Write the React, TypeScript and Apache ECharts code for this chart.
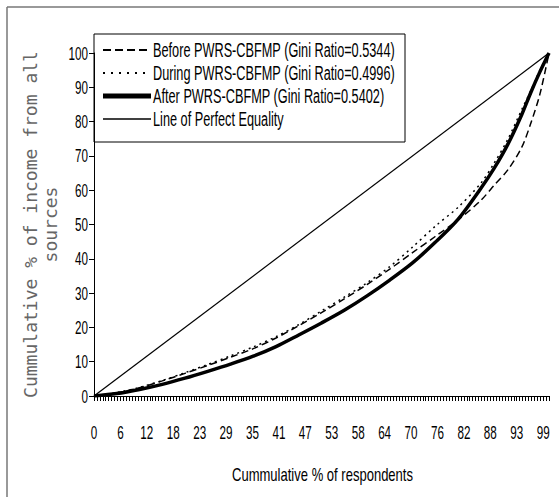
import { useEffect, useRef } from 'react';
import * as echarts from 'echarts';

// Cumulative % of respondents at which the curves are read
const respondentsPct = [0, 5, 10, 15, 20, 25, 30, 35, 40, 45, 50, 55, 60, 65, 70, 75, 80, 85, 88, 91, 94, 96, 98, 100];
// Cumulative % of income from all sources
const beforeIncome = [0, 0.9, 2.4, 4.4, 6.6, 8.9, 11.3, 13.8, 16.9, 20.5, 24.3, 28.3, 32.5, 37.0, 41.8, 46.5, 51.3, 57.0, 61.5, 66.0, 72.5, 79.5, 88.0, 100];
const duringIncome = [0, 1.0, 2.5, 4.5, 6.8, 9.2, 11.7, 14.3, 17.3, 20.8, 24.8, 28.8, 33.0, 37.7, 43.4, 49.5, 55.0, 62.0, 68.0, 75.0, 83.5, 89.0, 95.0, 100];
const afterIncome = [0, 0.7, 1.9, 3.4, 5.2, 7.2, 9.3, 11.6, 14.4, 17.8, 21.3, 25.0, 29.2, 33.8, 38.8, 44.8, 51.5, 60.5, 66.5, 73.5, 82.0, 88.5, 94.5, 100];
const equalityPct = [0, 100];

const seriesNames = [
  'Before PWRS-CBFMP (Gini Ratio=0.5344)',
  'During PWRS-CBFMP (Gini Ratio=0.4996)',
  'After PWRS-CBFMP (Gini Ratio=0.5402)',
  'Line of Perfect Equality',
];

// x axis: one tick per respondent group, a label every 9th
const xTickLabels = ['0', '6', '12', '18', '23', '29', '35', '41', '47', '53', '58', '64', '70', '76', '82', '88', '93', '99'];
const respondentGroups = 156;
const labelEvery = 9;
const yTickLabels = ['0', '10', '20', '30', '40', '50', '60', '70', '80', '90', '100'];

const xTitle = 'Cummulative % of respondents';
const yTitle = 'Cummulative % of income from all\nsources';

const SANS = "'Liberation Sans', Arial, sans-serif";

function measure(text: string, font: string): number {
  const ctx = document.createElement('canvas').getContext('2d');
  if (!ctx) return text.length * 9;
  ctx.font = font;
  return ctx.measureText(text).width;
}

export default function App() {
  const ref = useRef<HTMLDivElement>(null);
  useEffect(() => {
    if (!ref.current) return;
    const chart = echarts.init(ref.current, undefined, { renderer: 'svg' });
    const pairs = (ys: number[]) => respondentsPct.map((x, i) => [x, ys[i]]);
    const categories = Array.from({ length: respondentGroups }, (_, i) => String(i));
    chart.setOption({
      animation: false,
      backgroundColor: '#fff',
      grid: { left: 94, top: 53, width: 455, height: 343, containLabel: false },
      xAxis: [
        { type: 'value', min: 0, max: 100, show: false },
        {
          type: 'category',
          data: categories,
          boundaryGap: false,
          position: 'bottom',
          axisLine: { show: true, lineStyle: { color: '#000', width: 1 } },
          axisTick: { show: true, interval: 0, length: 5, lineStyle: { color: '#000' } },
          axisLabel: { show: false },
          splitLine: { show: false },
        },
      ],
      yAxis: {
        type: 'value',
        min: 0,
        max: 100,
        interval: 10,
        axisLine: { show: true, lineStyle: { color: '#000', width: 1 } },
        axisTick: { show: true, length: 5, lineStyle: { color: '#000' } },
        axisLabel: { show: false },
        splitLine: { show: false },
        name: yTitle,
        nameLocation: 'middle',
        nameRotate: 90,
        nameGap: 34,
        nameTextStyle: { fontFamily: "'DejaVu Sans Mono', monospace", fontSize: 18, color: '#666', lineHeight: 20 },
      },
      series: [
        { name: seriesNames[0], type: 'line', xAxisIndex: 0, data: pairs(beforeIncome), symbol: 'none', smooth: 0.3, lineStyle: { color: '#000', width: 1.5, type: [7, 4] } },
        { name: seriesNames[1], type: 'line', xAxisIndex: 0, data: pairs(duringIncome), symbol: 'none', smooth: 0.3, lineStyle: { color: '#000', width: 1.5, type: [2, 4] } },
        { name: seriesNames[2], type: 'line', xAxisIndex: 0, data: pairs(afterIncome), symbol: 'none', smooth: 0.3, lineStyle: { color: '#000', width: 3.5 } },
        { name: seriesNames[3], type: 'line', xAxisIndex: 0, data: equalityPct.map((v) => [v, v]), symbol: 'none', lineStyle: { color: '#000', width: 1.2 } },
      ],
    });

    // Condensed texts (tick labels, legend, x title), placed via the chart's own scales
    const tickFont = `18px ${SANS}`;
    const tickScale = 13 / measure('47', tickFont);
    const legendFont = `20px ${SANS}`;
    const legendScale = 242 / measure(seriesNames[0], legendFont);
    const titleFont = `18px ${SANS}`;
    const titleScale = 181 / measure(xTitle, titleFont);

    const axisY = chart.convertToPixel({ yAxisIndex: 0 }, 0) as number;
    const axisX = chart.convertToPixel({ xAxisIndex: 0 }, 0) as number;
    const xEnd = chart.convertToPixel({ xAxisIndex: 0 }, 100) as number;

    const graphics: any[] = [
      { type: 'line', shape: { x1: 7, y1: 7, x2: 559, y2: 7 }, style: { stroke: '#777', lineWidth: 1.5 } },
      { type: 'line', shape: { x1: 7, y1: 7, x2: 7, y2: 497 }, style: { stroke: '#777', lineWidth: 1.5 } },
    ];
    xTickLabels.forEach((lab, k) => {
      const px = chart.convertToPixel({ xAxisIndex: 1 }, k * labelEvery) as number;
      graphics.push({
        type: 'text', x: px, y: axisY + 36, scaleX: tickScale, silent: true,
        style: { text: lab, font: tickFont, fill: '#000', textAlign: 'center', textVerticalAlign: 'middle', verticalAlign: 'middle' },
      });
    });
    yTickLabels.forEach((lab) => {
      const py = chart.convertToPixel({ yAxisIndex: 0 }, Number(lab)) as number;
      graphics.push({
        type: 'text', x: axisX - 6, y: py, scaleX: tickScale, silent: true,
        style: { text: lab, font: tickFont, fill: '#000', textAlign: 'right', textVerticalAlign: 'middle', verticalAlign: 'middle' },
      });
    });
    graphics.push({
      type: 'text', x: (axisX + xEnd) / 2 + 1, y: axisY + 79, scaleX: titleScale, silent: true,
      style: { text: xTitle, font: titleFont, fill: '#000', textAlign: 'center', textVerticalAlign: 'middle', verticalAlign: 'middle' },
    });

    // Legend box
    const boxX = axisX;
    const boxY = 34;
    const legendChildren: any[] = [
      { type: 'rect', shape: { x: 0, y: 0, width: 311, height: 108 }, style: { fill: '#fff', stroke: '#000', lineWidth: 1 } },
    ];
    const rowY = [16, 39, 62, 85];
    const legendLines = [
      { lineWidth: 2, lineDash: [8, 4] },
      { lineWidth: 2, lineDash: [2, 6] },
      { lineWidth: 5, lineDash: null },
      { lineWidth: 1.5, lineDash: null },
    ];
    seriesNames.forEach((nm, i) => {
      legendChildren.push({
        type: 'line', shape: { x1: 9, y1: rowY[i], x2: 57, y2: rowY[i] },
        style: { stroke: '#000', lineWidth: legendLines[i].lineWidth, lineDash: legendLines[i].lineDash },
      });
      legendChildren.push({
        type: 'text', x: 59, y: rowY[i], scaleX: legendScale,
        style: { text: nm, font: legendFont, fill: '#000', textAlign: 'left', textVerticalAlign: 'middle', verticalAlign: 'middle' },
      });
    });
    graphics.push({ type: 'group', x: boxX, y: boxY, z: 10, children: legendChildren });

    chart.setOption({ graphic: graphics });
    return () => chart.dispose();
  }, []);
  return <div ref={ref} style={{ position: 'fixed', left: 0, top: 0, width: 559, height: 497 }} />;
}
